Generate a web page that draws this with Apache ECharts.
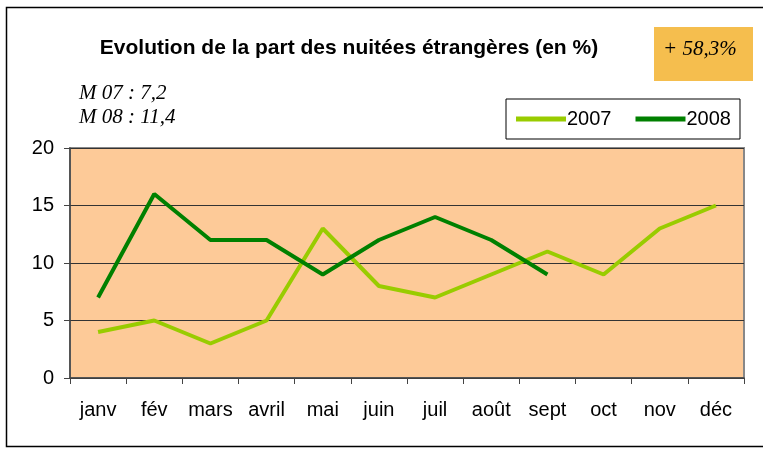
<!DOCTYPE html>
<html><head><meta charset="utf-8">
<script src="https://cdn.jsdelivr.net/npm/echarts@6/dist/echarts.min.js"></script>
<style>html,body{margin:0;padding:0;background:#fff}#c{width:763px;height:450px}</style>
</head><body><div id="c"></div>
<script>
const categories = ['janv','fév','mars','avril','mai','juin','juil','août','sept','oct','nov','déc'];
const values2007 = [4,5,3,5,13,8,7,9,11,9,13,15];
const values2008 = [7,16,12,12,9,12,14,12,9];
const yTicks = [0,5,10,15,20];

const chart = echarts.init(document.getElementById('c'), null, {renderer:'canvas'});
chart.setOption({
  animation:false,
  backgroundColor:'#fff',
  title:{
    text:'Evolution de la part des nuitées étrangères (en %)',
    left:344, top:33, textAlign:'center',
    textStyle:{fontFamily:'Liberation Sans, Arial', fontWeight:'bold', fontSize:21, color:'#000'}
  },
  graphic:[
    {type:'rect', shape:{x:6.5,y:7.5,width:800,height:439}, style:{fill:'none',stroke:'#000',lineWidth:1.5}, z:-1},
    {type:'rect', shape:{x:654,y:27,width:99,height:54}, style:{fill:'#F5BE4E'}},
    {type:'text', left:663, top:39, style:{text:'+ 58,3%', font:'italic 21px "Liberation Serif", serif', fill:'#000'}},
    {type:'text', left:79, top:83, style:{text:'M 07 : 7,2', font:'italic 21px "Liberation Serif", serif', fill:'#000'}},
    {type:'text', left:79, top:107, style:{text:'M 08 : 11,4', font:'italic 21px "Liberation Serif", serif', fill:'#000'}}
  ],
  legend:{
    left:506, top:99,
    itemWidth:50, itemHeight:5, itemGap:24,
    icon:'rect',
    padding:[10,9,10,10],
    borderColor:'#000', borderWidth:1,
    backgroundColor:'#fff',
    textStyle:{fontFamily:'Liberation Sans, Arial', fontSize:20, color:'#000', padding:[0,0,0,-4]},
    data:['2007','2008']
  },
  grid:{left:70, right:19, top:148, bottom:72, show:true, backgroundColor:'#FDCA98', borderColor:'#888', borderWidth:2},
  xAxis:{
    type:'category', data:categories, boundaryGap:true,
    axisLine:{lineStyle:{color:'#444', width:1.5}},
    axisTick:{show:true, interval:0, length:6, lineStyle:{color:'#444'}},
    axisLabel:{fontFamily:'Liberation Sans, Arial', fontSize:20, color:'#000', margin:22, interval:0}
  },
  yAxis:{
    type:'value', min:0, max:20, interval:5,
    axisLine:{show:true, lineStyle:{color:'#444', width:1.5}},
    axisTick:{show:true, length:6, lineStyle:{color:'#444'}},
    axisLabel:{fontFamily:'Liberation Sans, Arial', fontSize:20, color:'#000', margin:16,
      formatter:v=>yTicks.includes(v)?String(v):''},
    splitLine:{show:true, lineStyle:{color:'#333', width:1}}
  },
  series:[
    {name:'2007', type:'line', data:values2007, symbol:'none', lineStyle:{color:'#99CC00', width:4}, itemStyle:{color:'#99CC00'}},
    {name:'2008', type:'line', data:values2008, symbol:'none', lineStyle:{color:'#008000', width:4}, itemStyle:{color:'#008000'}}
  ]
});
</script></body></html>
